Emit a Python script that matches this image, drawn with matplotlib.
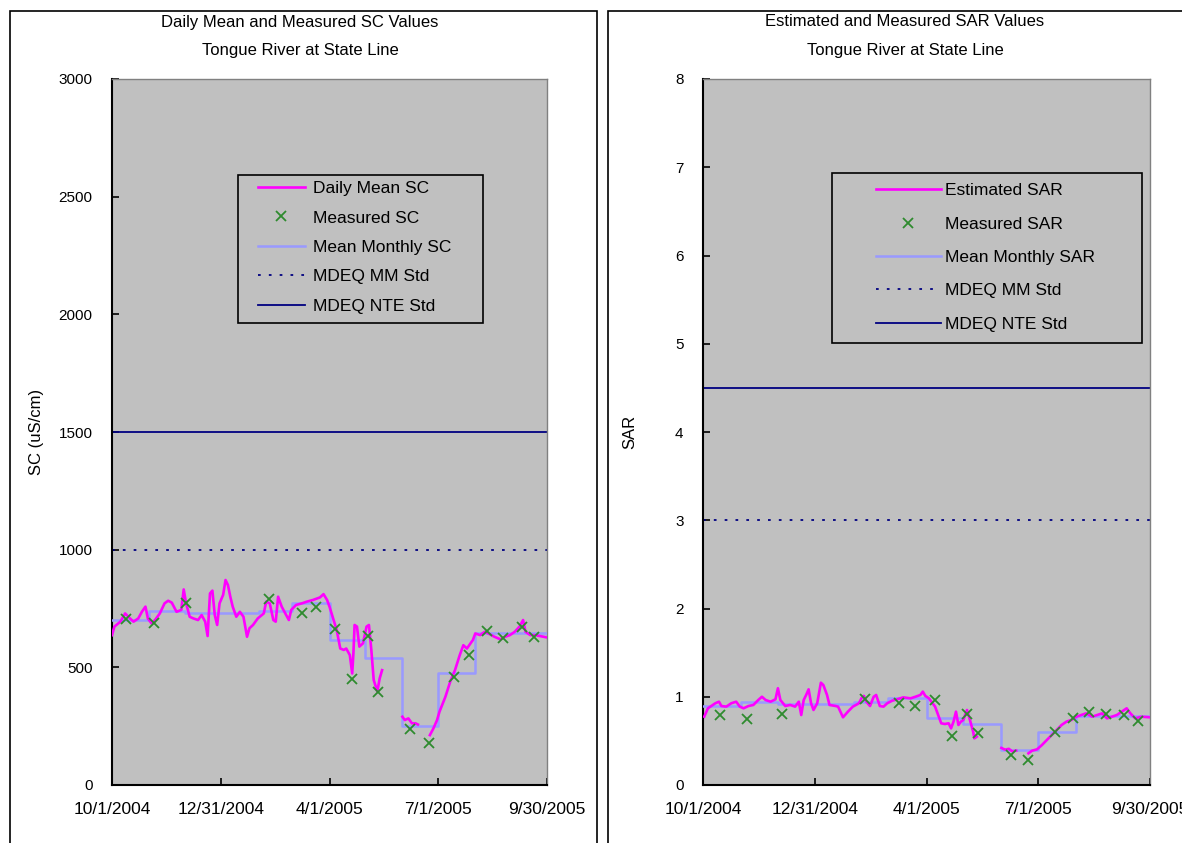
import numpy as np
import pandas as pd
import matplotlib
matplotlib.use('Agg')
import matplotlib.pyplot as plt
from matplotlib.patches import Rectangle

plt.rcParams['font.family'] = ['Liberation Sans', 'DejaVu Sans']

nan = np.nan
start = pd.Timestamp('2004-10-01')
end = pd.Timestamp('2005-09-30')
tick_labels = ['10/1/2004', '12/31/2004', '4/1/2005', '7/1/2005', '9/30/2005']
month_starts = pd.date_range('2004-10-01', periods=12, freq='MS')

# --- Specific conductance (uS/cm), days counted from 10/1/2004 ---
sc_days = [0, 2, 7, 11, 15, 18, 22, 25, 28, 30, 33, 36, 40, 44, 47, 50, 54, 58, 60, 62,
           65, 68, 72, 75, 78, 80, 82, 84, 86, 88, 90, 93, 95, 97, 99, 101, 104, 107, 110, 113,
           115, 118, 122, 127, 129, 132, 135, 137, 139, 142, 145, 148, 150, 154, 159, 163, 168, 174, 177, 180,
           182, 185, 188, 191, 194, 196, 199, 201, 202, 203, 205, 207, 210, 213, 215, 217, 219, 222, 224, 226,
           234, 243, 245, 248, 251, 254, 256, 261, 266, 269, 272, 274, 279, 283, 287, 291, 294, 297, 300, 302,
           304, 308, 312, 316, 320, 325, 329, 333, 337, 341, 344, 346, 350, 354, 358, 364]
sc_daily = [637, 673, 694, 729, 708, 694, 708, 736, 758, 708, 687, 701, 729, 772, 783, 775, 736, 744, 831, 772,
            715, 708, 701, 722, 694, 633, 814, 826, 722, 680, 772, 808, 871, 850, 800, 758, 715, 736, 715, 630,
            666, 680, 708, 729, 779, 772, 701, 694, 800, 758, 729, 701, 744, 765, 772, 779, 786, 797, 811, 786,
            758, 708, 659, 580, 574, 580, 552, 474, 559, 680, 673, 588, 602, 673, 680, 574, 446, 397, 453, 488,
            nan, 290, 276, 283, 262, 262, 257, nan, 212, 241, 276, 311, 375, 439, 488, 552, 594, 580, 602, 616,
            644, 637, 651, 641, 630, 619, 630, 637, 651, 673, 701, 651, 637, 637, 633, 627]
sc_meas_days = [12, 35, 62, 131, 159, 171, 187, 201, 214, 223, 249, 265, 286, 299, 314, 327, 343, 353]
sc_measured = [704, 690, 772, 789, 732, 758, 662, 450, 633, 397, 237, 180, 460, 552, 656, 623, 673, 630]
sc_monthly = [701, 741, 729, 729, 738, 774, 616, 538, 251, 475, 647, 647]
sc_mm_std = 1000
sc_nte_std = 1500

# --- Sodium adsorption ratio ---
sar_days = [1, 4, 10, 13, 15, 19, 23, 27, 30, 33, 37, 41, 45, 48, 51, 55, 59, 61, 63, 67,
            71, 75, 78, 80, 82, 84, 86, 88, 90, 93, 96, 98, 101, 103, 108, 110, 114, 118, 122, 127,
            129, 131, 133, 136, 139, 141, 144, 147, 150, 154, 158, 163, 169, 173, 177, 179, 181, 184, 186, 189,
            192, 194, 197, 200, 202, 204, 206, 208, 210, 212, 215, 217, 220, 221, 223, 234, 243, 246, 249, 252,
            255, 261, 265, 268, 272, 276, 280, 284, 288, 292, 296, 300, 304, 308, 312, 317, 321, 325, 329, 333,
            337, 341, 345, 348, 352, 357, 364]
sar_daily = [0.774, 0.869, 0.926, 0.944, 0.895, 0.888, 0.926, 0.944, 0.888, 0.869, 0.895, 0.907, 0.963, 1.0, 0.963,
             0.944, 0.971, 1.096, 0.963, 0.895, 0.907, 0.888, 0.944, 0.793, 0.963, 1.02, 1.084, 0.926, 0.85, 0.926,
             1.159, 1.133, 1.02, 0.907, 0.895, 0.888, 0.767, 0.831, 0.888, 0.926, 0.982, 1.01, 0.944, 0.895, 1.0,
             1.02, 0.895, 0.888, 0.926, 0.955, 0.971, 0.993, 0.982, 1.0, 1.02, 1.058, 1.01, 0.982, 0.944, 0.888,
             0.774, 0.699, 0.691, 0.699, 0.642, 0.718, 0.831, 0.68, 0.718, 0.737, 0.85, 0.755, 0.604, 0.529, 0.548,
             nan, 0.42, 0.40, 0.41, 0.38, 0.39, nan, 0.359, 0.389, 0.404, 0.453, 0.51, 0.567, 0.623, 0.68,
             0.718, 0.737, 0.774, 0.793, 0.812, 0.774, 0.793, 0.812, 0.755, 0.774, 0.793, 0.831, 0.869, 0.812, 0.755,
             0.774, 0.767]
sar_meas_days = [14, 36, 64, 132, 160, 173, 189, 203, 215, 224, 251, 265, 287, 301, 314, 328, 343, 354]
sar_measured = [0.79, 0.75, 0.81, 0.97, 0.93, 0.90, 0.96, 0.55, 0.81, 0.59, 0.34, 0.28, 0.60, 0.76, 0.83, 0.81,
                0.79, 0.72]
sar_monthly = [0.895, 0.937, 0.918, 0.918, 0.944, 0.982, 0.755, 0.691, 0.397, 0.604, 0.782, 0.782]
sar_mm_std = 3
sar_nte_std = 4.5

FS = 11
LEG_FS = 12.5
NAVY = '#000080'


def to_dates(days):
    return start + pd.to_timedelta(days, unit='D')


def draw_panel(ax, days, daily, mdays, measured, monthly, mm_std, nte_std,
               labels, ymax, ylabel, box, leg_xy, leg_kw):
    ax.set_facecolor('#C0C0C0')
    ax.plot(to_dates(days), daily, color='#FF00FF', lw=1.9, label=labels[0], zorder=4)
    ax.plot(to_dates(mdays), measured, ls='none', marker='x', ms=6.5, mew=1.3,
            color='#2E8B2E', label=labels[1], zorder=5)
    edges = list(month_starts) + [end]
    ax.step(edges, monthly + [monthly[-1]], where='post', color='#9999FF', lw=1.8,
            label=labels[2], zorder=3)
    ax.axhline(mm_std, color=NAVY, lw=1.3, ls=(0, (1.5, 4.5)), label=labels[3])
    ax.axhline(nte_std, color=NAVY, lw=1.3, label=labels[4])

    ax.set_xlim(start, end)
    ax.set_ylim(0, ymax)
    ax.set_xticks(pd.to_datetime(tick_labels, format='%m/%d/%Y'))
    ax.set_xticklabels(tick_labels)
    ax.tick_params(axis='both', direction='in', length=5, width=1.2, labelsize=FS, colors='black')
    ax.tick_params(axis='x', pad=12, labelsize=12.5)
    ax.tick_params(axis='y', pad=14)
    for s in ['left', 'bottom']:
        ax.spines[s].set_color('black')
        ax.spines[s].set_linewidth(1.5)
    for s in ['top', 'right']:
        ax.spines[s].set_color('#808080')
        ax.spines[s].set_linewidth(1.0)
    ax.set_ylabel(ylabel, fontsize=12)

    # legend frame drawn separately so the entries can sit with a wide left margin
    ax.add_patch(Rectangle(box[:2], box[2], box[3], transform=ax.transAxes, facecolor='#C0C0C0',
                           edgecolor='black', lw=1.2, zorder=9))
    leg = ax.legend(loc='upper left', bbox_to_anchor=leg_xy, borderaxespad=0, borderpad=0,
                    fontsize=LEG_FS, frameon=False, **leg_kw)
    leg.set_zorder(10)


fig = plt.figure(figsize=(11.82, 8.43), dpi=100)
W, H = 1182, 843

# chart area borders
fig.patches.append(Rectangle((10 / W, -0.01), 587 / W, 1.01 - 11 / H, transform=fig.transFigure,
                             fill=False, edgecolor='black', lw=1.2))
fig.patches.append(Rectangle((608 / W, -0.01), 600 / W, 1.01 - 11 / H, transform=fig.transFigure,
                             fill=False, edgecolor='black', lw=1.2))

ax1 = fig.add_axes([112 / W, 58 / H, 435 / W, 706 / H])
ax2 = fig.add_axes([703 / W, 58 / H, 447 / W, 706 / H])

draw_panel(ax1, sc_days, sc_daily, sc_meas_days, sc_measured, sc_monthly, sc_mm_std, sc_nte_std,
           ['Daily Mean SC', 'Measured SC', 'Mean Monthly SC', 'MDEQ MM Std', 'MDEQ NTE Std'],
           3000, 'SC (uS/cm)', (0.2897, 0.6544, 0.5632, 0.2096), (0.3356, 0.8555),
           dict(handlelength=2.7, handletextpad=0.46, labelspacing=0.82))
ax1.set_yticks(np.arange(0, 3001, 500))
ax1.yaxis.set_label_coords(-0.156, 0.5)

draw_panel(ax2, sar_days, sar_daily, sar_meas_days, sar_measured, sar_monthly, sar_mm_std, sar_nte_std,
           ['Estimated SAR', 'Measured SAR', 'Mean Monthly SAR', 'MDEQ MM Std', 'MDEQ NTE Std'],
           8, 'SAR', (0.2886, 0.626, 0.6935, 0.2408), (0.387, 0.8525),
           dict(handlelength=3.74, handletextpad=0.23, labelspacing=1.05))
ax2.set_yticks(np.arange(0, 9, 1))
ax2.yaxis.set_label_coords(-0.148, 0.5)

fig.text(300 / W, 1 - 22 / H, 'Daily Mean and Measured SC Values', ha='center', va='center', fontsize=12)
fig.text(300 / W, 1 - 50 / H, 'Tongue River at State Line', ha='center', va='center', fontsize=12)
fig.text(905 / W, 1 - 22 / H, 'Estimated and Measured SAR Values', ha='center', va='center', fontsize=12)
fig.text(905 / W, 1 - 50 / H, 'Tongue River at State Line', ha='center', va='center', fontsize=12)

fig.savefig('out.png', dpi=100, facecolor='white')
